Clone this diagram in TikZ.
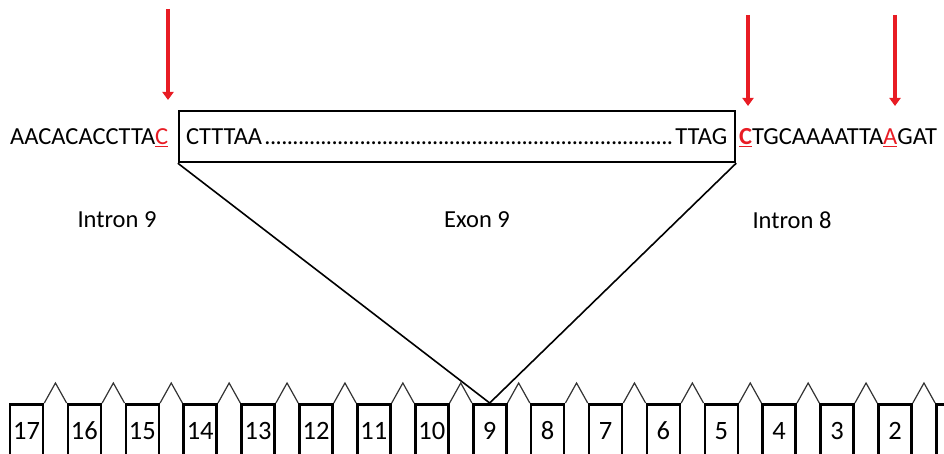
\documentclass[tikz,border=0pt]{standalone}
\usepackage{fontspec}
\setmainfont{Carlito}
\usetikzlibrary{arrows.meta,calc}
\definecolor{mkred}{RGB}{232,28,36}
\begin{document}
\begin{tikzpicture}[x=1pt,y=-1pt,
  every node/.style={font=\fontsize{24.5}{29}\selectfont, inner sep=0pt},
  exonbox/.style={draw, line width=2.4pt, minimum width=556pt, minimum height=51pt, text height=25.5pt, text depth=8.5pt},
  numbox/.style={draw, line width=2.6pt, minimum width=33pt, minimum height=54pt, anchor=north,
    font=\fontsize{26.5}{30}\selectfont, text height=19pt, text depth=2pt},
  hinge/.style={line width=1.2pt, draw=black!80},
  funnel/.style={line width=1.6pt},
  redarrow/.style={draw=mkred, line width=4pt, -{Triangle[width=11pt,length=8pt]}}]
\useasboundingbox (0,0) rectangle (944,454);
\clip (0,0) rectangle (944,454);

% sequence
\node[anchor=base west] (left) at (10,145) {AACACACCTTA\textcolor{mkred}{\underline{C}}};
\node[exonbox] (exon) at (457,136.5) {\makebox[542pt]{CTTTAA\cleaders\hbox to 5.6pt{\hss.\hss}\hfill TTAG}};
\node[anchor=base west] (right) at (739,145) {\textcolor{mkred}{\underline{\textbf{C}}}TGCAAAATTA\textcolor{mkred}{\underline{A}}GAT};

% red arrows
\coordinate (a1s) at (168,9);   \coordinate (a1e) at (168,100);
\coordinate (a2s) at (748,15);  \coordinate (a2e) at (748,106);
\coordinate (a3s) at (895,15);  \coordinate (a3e) at (895,106);
\draw[redarrow] (a1s) -- (a1e);
\draw[redarrow] (a2s) -- (a2e);
\draw[redarrow] (a3s) -- (a3e);

% labels
\node (in9) at (117,220) {Intron 9};
\node (ex9) at (477,220) {Exon 9};
\node (in8) at (792,220) {Intron 8};

% exon boxes
\foreach \k in {0,...,16} {
  \node[numbox] (b\k) at ({26.5+57.9*\k},403) {\ifnum\k<16 \number\numexpr17-\k\relax\fi};
}
\foreach \k [evaluate=\k as \n using int(\k+1)] in {0,...,15} {
  \draw[hinge] (b\k.north east) -- ($(b\k.north east)!0.5!(b\n.north west)+(0,-20)$) -- (b\n.north west);
}

% funnel
\draw[funnel] (exon.south west) -- (b8.north) -- (exon.south east);
\end{tikzpicture}
\end{document}
